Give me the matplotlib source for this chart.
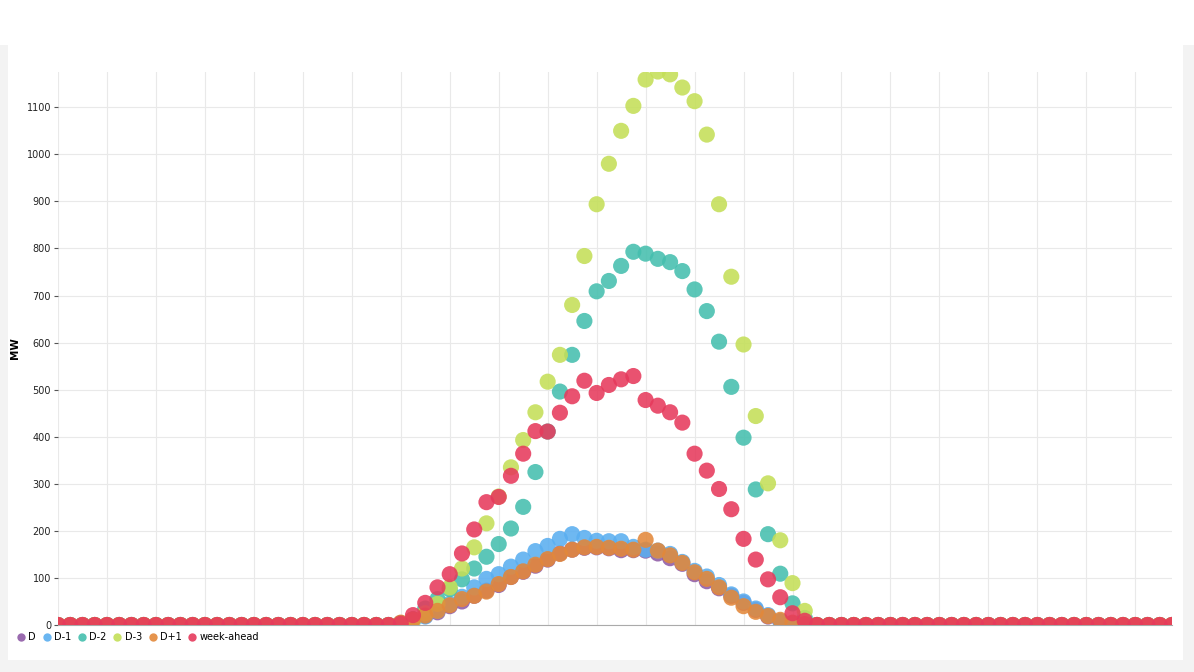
#!/usr/bin/env python3
"""Solar forecast comparison scatter (MW per quarter hour)."""

import matplotlib
matplotlib.use('Agg')
import matplotlib.pyplot as plt
from matplotlib.patches import Rectangle
import numpy as np

# ── data: 92 quarter-hours, non-zero part from index 28 to 61 ────────────
n_pts = 92
lead = [0] * 28
tail = [0] * 30

d_vals = lead + [4, 12, 19, 27, 40, 50, 62, 73, 85, 102, 113, 126, 139, 152,
                 160, 164, 165, 163, 159, 159, 158, 152, 142, 130, 108, 93,
                 78, 62, 47, 32, 18, 8, 3, 0] + tail
d1_vals = lead + [3, 8, 18, 30, 45, 60, 80, 98, 108, 124, 139, 157, 168, 183,
                  193, 185, 179, 178, 178, 166, 160, 158, 151, 134, 115, 103,
                  85, 65, 50, 35, 21, 8, 2, 0] + tail
d2_vals = lead + [4, 12, 35, 55, 76, 97, 120, 145, 172, 205, 251, 325, 411,
                  496, 574, 646, 709, 731, 763, 793, 789, 778, 771, 752, 713,
                  667, 602, 506, 398, 288, 193, 109, 46, 15] + tail
d3_vals = lead + [3, 10, 25, 45, 80, 120, 165, 216, 273, 335, 393, 452, 517,
                  574, 680, 784, 894, 980, 1050, 1103, 1159, 1176, 1170, 1142,
                  1113, 1042, 894, 740, 596, 444, 301, 180, 89, 30] + tail
dp1_vals = lead + [5, 12, 20, 30, 42, 55, 62, 71, 87, 102, 114, 128, 140, 151,
                   160, 165, 166, 164, 162, 160, 181, 158, 148, 132, 112, 98,
                   80, 58, 40, 28, 19, 11, 5, 2] + tail
wa_vals = lead + [3, 21, 47, 80, 108, 152, 203, 261, 272, 317, 364, 412, 411,
                  451, 486, 519, 493, 510, 522, 529, 478, 466, 452, 430, 364,
                  328, 289, 246, 183, 139, 97, 59, 25, 9] + tail

series = [('D', d_vals, '#8f5ba6'),
          ('D-1', d1_vals, '#5aaef0'),
          ('D-2', d2_vals, '#45bfae'),
          ('D-3', d3_vals, '#c4df58'),
          ('D+1', dp1_vals, '#e3883a'),
          ('week-ahead', wa_vals, '#e63a5c')]

x = np.arange(n_pts)

# ── figure ───────────────────────────────────────────────────────────────
fig = plt.figure(figsize=(11.94, 6.72), dpi=100)
fig.patch.set_facecolor('white')
# light gray card border
gray = '#f3f3f3'
for rect in [(0, 0, 8 / 1194, 627 / 672), (1183 / 1194, 0, 11 / 1194, 627 / 672),
             (0, 0, 1, 12 / 672)]:
    fig.patches.append(Rectangle(rect[:2], rect[2], rect[3], transform=fig.transFigure,
                                 facecolor=gray, edgecolor='none', zorder=-10))

ax = fig.add_axes([58 / 1194, 47 / 672, 1114 / 1194, 553 / 672])

for name, vals, col in series:
    ax.scatter(x, vals, s=135, color=col, alpha=0.88, edgecolors='none',
               label=name, zorder=3)

ax.set_xlim(0, 91)
ax.set_ylim(0, 1175)
ax.set_yticks(np.arange(0, 1101, 100))
ax.set_xticks(np.arange(0, 92, 4))
ax.set_xticklabels([])
ax.tick_params(axis='x', length=0)
ax.tick_params(axis='y', labelsize=7, length=3, color='#555555', pad=2,
               labelcolor='#222222')
ax.grid(True, color='#e9e9e9', linewidth=0.8, zorder=0)
ax.set_axisbelow(True)
for s in ['top', 'right', 'left']:
    ax.spines[s].set_visible(False)
ax.spines['bottom'].set_color('#aaaaaa')
ax.set_ylabel('MW', fontsize=7.5, fontweight='bold')
ax.yaxis.set_label_coords(-0.034, 0.5)

handles = [plt.Line2D([], [], marker='o', linestyle='none', markersize=6,
                      markerfacecolor=c, markeredgecolor='none', alpha=0.9)
           for _, _, c in series]
fig.legend(handles, [n for n, _, _ in series], loc='center left',
           bbox_to_anchor=(10 / 1194, 1 - 637 / 672), ncol=6, frameon=False,
           fontsize=7, handletextpad=0.0, columnspacing=0.35, handlelength=1.5,
           borderaxespad=0)

plt.savefig('out.png')
plt.close()
print('Saved out.png')
